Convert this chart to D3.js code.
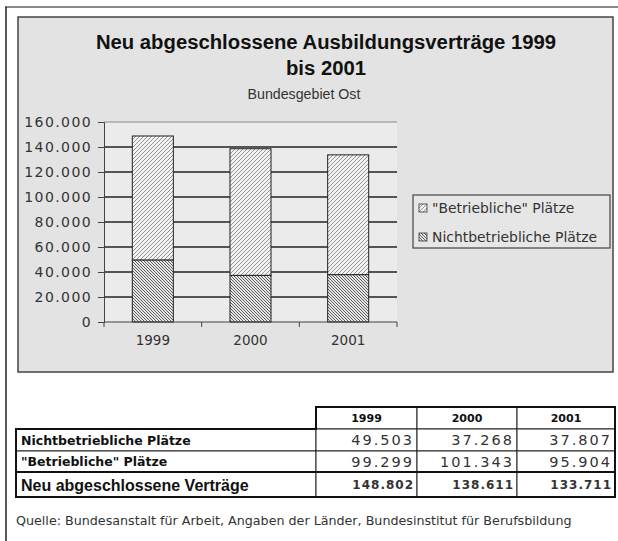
<!DOCTYPE html>
<html>
<head>
<meta charset="utf-8">
<script src="https://cdn.jsdelivr.net/npm/d3@7"></script>
<style>
  body { margin: 0; background: #fff; }
  text { font-family: "Liberation Sans", Arial, sans-serif; fill: #111; }
</style>
</head>
<body>
<div id="chart"></div>
<script>
var years = ["1999", "2000", "2001"];
var nichtbetrieblich = [49503, 37268, 37807];
var betrieblich = [99299, 101343, 95904];
var gesamt = [148802, 138611, 133711];
var yTicks = [0, 20000, 40000, 60000, 80000, 100000, 120000, 140000, 160000];
var seriesNames = ["Nichtbetriebliche Plätze", "\"Betriebliche\" Plätze"];
var totalName = "Neu abgeschlossene Verträge";
var source = "Quelle: Bundesanstalt für Arbeit, Angaben der Länder, Bundesinstitut für Berufsbildung";

var de = d3.formatLocale({decimal: ",", thousands: ".", grouping: [3], currency: ["", "€"]});
var fmt = de.format(",");
var wide = "DejaVu Sans, sans-serif";

var W = 618, H = 541;
var svg = d3.select("#chart").append("svg")
  .attr("width", W).attr("height", H);

// patterns
var defs = svg.append("defs");
var p1 = defs.append("pattern").attr("id", "hatchLight")
  .attr("patternUnits", "userSpaceOnUse").attr("width", 4).attr("height", 4);
p1.append("rect").attr("width", 4).attr("height", 4).attr("fill", "#f2f2f2");
p1.append("path").attr("d", "M-1,1 l2,-2 M0,4 l4,-4 M3,5 l2,-2")
  .attr("stroke", "#8a8a8a").attr("stroke-width", 0.9);
var p2 = defs.append("pattern").attr("id", "hatchDark")
  .attr("patternUnits", "userSpaceOnUse").attr("width", 3).attr("height", 3);
p2.append("rect").attr("width", 3).attr("height", 3).attr("fill", "#e6e6e6");
p2.append("path").attr("d", "M-1,-1 l2,2 M0,0 l3,3 M2,-1 l2,2 M-1,2 l2,2")
  .attr("stroke", "#555").attr("stroke-width", 0.9);

// outer frame
svg.append("line").attr("x1", 5).attr("x2", W).attr("y1", 7).attr("y2", 7)
  .attr("stroke", "#888").attr("stroke-width", 2);
svg.append("line").attr("x1", 6).attr("x2", 6).attr("y1", 7).attr("y2", H)
  .attr("stroke", "#222").attr("stroke-width", 1.5);

// chart area
svg.append("rect").attr("x", 18).attr("y", 17).attr("width", 595).attr("height", 355)
  .attr("fill", "#e3e3e3").attr("stroke", "#444").attr("stroke-width", 1.5);

svg.append("text").attr("x", 326).attr("y", 49).attr("text-anchor", "middle")
  .style("font-size", "20.3px").style("font-weight", "bold")
  .text("Neu abgeschlossene Ausbildungsverträge 1999");
svg.append("text").attr("x", 326).attr("y", 75).attr("text-anchor", "middle")
  .style("font-size", "20.3px").style("font-weight", "bold")
  .text("bis 2001");
svg.append("text").attr("x", 304).attr("y", 99).attr("text-anchor", "middle")
  .style("font-size", "14.2px").style("fill", "#333")
  .text("Bundesgebiet Ost");

var plot = {left: 104, right: 397, top: 122, bottom: 322};
var x = d3.scaleBand().domain(years).range([plot.left, plot.right]).paddingInner(0.58).paddingOuter(0.29);
var xb = d3.scaleBand().domain(years).range([plot.left, plot.right]);
var y = d3.scaleLinear().domain([0, 160000]).range([plot.bottom, plot.top]);

svg.append("rect").attr("x", plot.left).attr("y", plot.top)
  .attr("width", plot.right - plot.left).attr("height", plot.bottom - plot.top)
  .attr("fill", "#ebebeb");

// gridlines
svg.append("g").selectAll("line").data(yTicks.slice(1)).join("line")
  .attr("x1", plot.left).attr("x2", plot.right)
  .attr("y1", d => y(d)).attr("y2", d => y(d))
  .attr("stroke", d => d === 160000 ? "#aaa" : "#222").attr("stroke-width", 1.4);

// y axis
var yAxis = svg.append("g").attr("transform", "translate(" + plot.left + ",0)")
  .call(d3.axisLeft(y).tickValues(yTicks).tickFormat(d => fmt(d)).tickSize(6).tickPadding(6));
yAxis.select(".domain").attr("stroke", "#444");
yAxis.selectAll(".tick line").attr("stroke", "#444");
yAxis.selectAll("text").attr("font-family", null)
  .style("font-size", "14px").style("font-family", wide).style("letter-spacing", "1.4px")
  .style("fill", "#333");

// bars
var stacks = years.map((yr, i) => ({year: yr, a: nichtbetrieblich[i], b: betrieblich[i]}));
svg.append("g").selectAll("rect").data(stacks).join("rect")
  .attr("x", d => x(d.year)).attr("width", x.bandwidth())
  .attr("y", d => y(d.a + d.b)).attr("height", d => y(d.a) - y(d.a + d.b))
  .attr("fill", "url(#hatchLight)").attr("stroke", "#222").attr("stroke-width", 1);
svg.append("g").selectAll("rect").data(stacks).join("rect")
  .attr("x", d => x(d.year)).attr("width", x.bandwidth())
  .attr("y", d => y(d.a)).attr("height", d => y(0) - y(d.a))
  .attr("fill", "url(#hatchDark)").attr("stroke", "#222").attr("stroke-width", 1);

// x axis
svg.append("line").attr("x1", plot.left).attr("x2", plot.right)
  .attr("y1", plot.bottom).attr("y2", plot.bottom).attr("stroke", "#444").attr("stroke-width", 1.2);
var xTickPos = [plot.left].concat(years.map(d => xb(d) + xb.bandwidth()));
svg.append("g").selectAll("line").data(xTickPos).join("line")
  .attr("x1", d => d).attr("x2", d => d).attr("y1", plot.bottom).attr("y2", plot.bottom + 5)
  .attr("stroke", "#444");
svg.append("g").selectAll("text").data(years).join("text")
  .attr("x", d => xb(d) + xb.bandwidth() / 2).attr("y", 345)
  .attr("text-anchor", "middle")
  .style("font-size", "13.5px").style("font-family", wide).style("fill", "#333")
  .text(d => d);

// legend
svg.append("rect").attr("x", 413).attr("y", 195).attr("width", 197).attr("height", 53)
  .attr("fill", "#e6e6e6").attr("stroke", "#444").attr("stroke-width", 1.2);
var legendItems = [
  {name: seriesNames[1], fill: "url(#hatchLight)"},
  {name: seriesNames[0], fill: "url(#hatchDark)"}
];
var lg = svg.append("g").selectAll("g").data(legendItems).join("g")
  .attr("transform", (d, i) => "translate(419," + (208 + i * 29) + ")");
lg.append("rect").attr("x", 0).attr("y", -4).attr("width", 8).attr("height", 8)
  .attr("fill", d => d.fill).attr("stroke", "#333").attr("stroke-width", 0.8);
lg.append("text").attr("x", 13).attr("y", 5)
  .style("font-size", "13.9px").style("font-family", wide).style("fill", "#333")
  .text(d => d.name);

// table
var colX = [16, 316, 417, 517, 615];
var rowY = [407, 429, 451, 472, 497];
var tbl = svg.append("g");
var rows = [
  {label: seriesNames[0], values: nichtbetrieblich, bold: false},
  {label: seriesNames[1], values: betrieblich, bold: false},
  {label: totalName, values: gesamt, bold: true}
];
// header cells
tbl.selectAll("rect.h").data(years).join("rect").attr("class", "h")
  .attr("x", (d, i) => colX[i + 1]).attr("y", rowY[0])
  .attr("width", (d, i) => colX[i + 2] - colX[i + 1]).attr("height", rowY[1] - rowY[0])
  .attr("fill", "#fff").attr("stroke", "#222").attr("stroke-width", 1);
tbl.selectAll("text.h").data(years).join("text").attr("class", "h")
  .attr("x", (d, i) => (colX[i + 1] + colX[i + 2]) / 2).attr("y", rowY[0] + 15)
  .attr("text-anchor", "middle").style("font-size", "11px").style("font-weight", "bold")
  .style("font-family", wide)
  .text(d => d);
// body
rows.forEach(function (r, ri) {
  var y0 = rowY[ri + 1], y1 = rowY[ri + 2];
  tbl.append("rect").attr("x", colX[0]).attr("y", y0).attr("width", colX[1] - colX[0]).attr("height", y1 - y0)
    .attr("fill", "#fff").attr("stroke", "#222").attr("stroke-width", 1);
  tbl.append("text").attr("x", colX[0] + 5).attr("y", (y0 + y1) / 2 + (r.bold ? 6 : 4.5))
    .style("font-size", r.bold ? "16px" : "12.5px").style("font-weight", "bold")
    .style("font-family", r.bold ? null : wide)
    .text(r.label);
  r.values.forEach(function (v, ci) {
    tbl.append("rect").attr("x", colX[ci + 1]).attr("y", y0)
      .attr("width", colX[ci + 2] - colX[ci + 1]).attr("height", y1 - y0)
      .attr("fill", "#fff").attr("stroke", "#222").attr("stroke-width", 1);
    tbl.append("text").attr("x", colX[ci + 2] - 3).attr("y", (y0 + y1) / 2 + (r.bold ? 4.5 : 5))
      .attr("text-anchor", "end")
      .style("font-family", wide)
      .style("letter-spacing", r.bold ? "1px" : "2px")
      .style("font-size", r.bold ? "12px" : "14.5px").style("font-weight", r.bold ? "bold" : "normal")
      .style("fill", "#333")
      .text(fmt(v));
  });
});
// thick outline
tbl.append("path")
  .attr("d", "M" + colX[0] + "," + rowY[1] + "H" + colX[1] + "V" + rowY[0] + "H" + colX[4] +
    "V" + rowY[4] + "H" + colX[0] + "Z")
  .attr("fill", "none").attr("stroke", "#111").attr("stroke-width", 2);
tbl.append("line").attr("x1", colX[0]).attr("x2", colX[4]).attr("y1", rowY[3]).attr("y2", rowY[3])
  .attr("stroke", "#111").attr("stroke-width", 2);

svg.append("text").attr("x", 16).attr("y", 525)
  .style("font-size", "12.7px").style("font-family", wide).style("fill", "#333")
  .text(source);
</script>
</body>
</html>
